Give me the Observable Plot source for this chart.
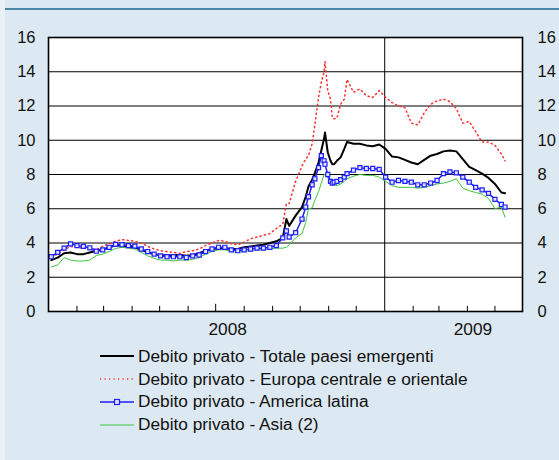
<!DOCTYPE html>
<html><head><meta charset="utf-8">
<script src="https://cdn.jsdelivr.net/npm/d3@7"></script>
<script src="https://cdn.jsdelivr.net/npm/@observablehq/plot@0.6"></script>
<style>
html,body{margin:0;padding:0;width:559px;height:460px;overflow:hidden;background:#eaf1f6;font-family:"Liberation Sans",Arial,sans-serif;}
#panel{position:absolute;left:5px;top:0;width:554px;height:460px;background:#dde9f2;}
#topline{position:absolute;left:5px;top:8px;width:554px;height:2px;background:#4b88a8;}
#chart{position:absolute;left:0;top:0;}
#legend{position:absolute;left:100px;top:345px;font-size:17.3px;color:#111;}
.row{height:22.8px;display:flex;align-items:center;white-space:nowrap;}
.row svg{margin-right:4px;flex:none}
</style>
</head><body>
<div id="panel"></div>
<div id="topline"></div>
<div id="chart"></div>
<div id="legend"></div>
<script>
const dates = [
"2008-01-04","2008-01-11","2008-01-18","2008-01-25","2008-02-01","2008-02-08","2008-02-15","2008-02-22","2008-02-29",
"2008-03-07","2008-03-14","2008-03-21","2008-03-28","2008-04-04","2008-04-11","2008-04-18","2008-04-25",
"2008-05-02","2008-05-09","2008-05-16","2008-05-23","2008-05-30","2008-06-06","2008-06-13","2008-06-20","2008-06-27",
"2008-07-04","2008-07-11","2008-07-18","2008-07-25","2008-08-01","2008-08-08","2008-08-15","2008-08-22","2008-08-29",
"2008-09-05","2008-09-12","2008-09-16","2008-09-19","2008-09-26","2008-10-03","2008-10-07","2008-10-10","2008-10-14",
"2008-10-17","2008-10-21","2008-10-24","2008-10-27","2008-10-28","2008-10-31","2008-11-03","2008-11-05","2008-11-07",
"2008-11-10","2008-11-14","2008-11-18","2008-11-21","2008-11-28","2008-12-05","2008-12-12","2008-12-19","2008-12-26",
"2009-01-02","2009-01-09","2009-01-16","2009-01-23","2009-01-30","2009-02-06","2009-02-13","2009-02-20","2009-02-27",
"2009-03-06","2009-03-13","2009-03-20","2009-03-27","2009-04-03","2009-04-10","2009-04-17","2009-04-24","2009-05-01",
"2009-05-08","2009-05-12"
];
const totale = [
3.0,3.15,3.4,3.45,3.35,3.35,3.45,3.55,3.6,3.75,3.85,3.85,3.8,3.75,3.6,3.45,3.35,3.3,3.25,3.3,3.3,3.25,3.3,3.4,3.55,3.65,
3.7,3.7,3.65,3.65,3.75,3.8,3.85,3.9,4.0,4.1,
4.3,5.4,5.0,5.6,6.1,6.7,7.3,7.7,8.1,8.7,9.4,10.1,10.45,9.3,8.8,8.6,8.6,8.8,9.0,9.5,9.9,9.8,9.8,9.7,9.65,9.75,
9.5,9.05,9.0,8.85,8.7,8.6,8.85,9.1,9.2,9.35,9.4,9.35,8.9,8.45,8.25,8.05,7.8,7.45,6.95,6.9
];
const europa = [
3.2,3.35,3.6,3.8,3.75,3.7,3.7,3.6,3.8,3.95,4.1,4.2,4.15,4.1,4.0,3.8,3.65,3.55,3.5,3.45,3.4,3.5,3.55,3.65,3.85,4.0,
4.15,4.1,3.95,3.9,4.05,4.25,4.35,4.45,4.55,4.85,
5.1,6.3,6.3,7.6,8.5,8.9,9.1,9.8,10.9,12.5,13.4,14.0,14.6,12.9,12.4,11.3,11.25,11.3,12.1,12.4,13.55,12.8,13.0,12.6,12.5,12.9,
12.5,12.2,12.0,11.9,11.0,10.9,11.6,12.1,12.3,12.4,12.25,11.85,11.0,11.1,10.5,9.9,9.9,9.7,9.2,8.8
];
const america = [
3.2,3.45,3.7,3.95,3.85,3.8,3.72,3.52,3.6,3.75,3.92,3.9,3.85,3.82,3.65,3.5,3.35,3.25,3.2,3.2,3.2,3.15,3.25,3.3,3.5,3.65,
3.75,3.75,3.6,3.55,3.6,3.65,3.7,3.7,3.75,3.85,
4.3,4.7,4.35,4.6,5.4,6.1,6.7,7.4,7.75,8.4,9.1,8.8,8.6,8.0,7.6,7.5,7.55,7.6,7.7,7.85,8.05,8.25,8.4,8.35,8.35,8.3,
7.85,7.55,7.65,7.6,7.55,7.4,7.4,7.5,7.65,8.05,8.15,8.1,7.85,7.55,7.25,7.1,6.9,6.55,6.25,6.1
];
const asia = [
2.6,2.72,3.15,3.0,2.95,2.95,3.0,3.27,3.35,3.5,3.68,3.75,3.7,3.65,3.45,3.25,3.1,3.0,3.0,2.95,3.0,3.0,3.05,3.15,3.35,3.5,
3.6,3.6,3.5,3.45,3.5,3.55,3.6,3.6,3.65,3.7,
3.7,3.75,3.9,4.3,4.55,5.2,6.0,6.05,6.5,7.0,7.5,8.0,8.0,7.8,7.6,7.45,7.4,7.35,7.45,7.6,7.75,7.9,8.0,7.95,7.95,7.85,
7.6,7.35,7.25,7.25,7.25,7.2,7.25,7.35,7.45,7.5,7.6,7.75,7.2,7.05,6.95,6.85,6.6,6.0,6.1,5.5
];
const seriesNames = [
"Debito privato - Totale paesi emergenti",
"Debito privato - Europa centrale e orientale",
"Debito privato - America latina",
"Debito privato - Asia (2)"
];
const yTicks = [0,2,4,6,8,10,12,14,16];
const yearLabels = ["2008","2009"];
const yearLabelDates = ["2008-07-14","2009-04-07"];
const yearBoundary = "2009-01-01";
const xDomain = ["2008-01-01","2009-05-31"];

const rows = dates.map((d,i)=>({date:new Date(d), tot:totale[i], eu:europa[i], am:america[i], as:asia[i]}));
const months = d3.utcMonth.range(new Date("2008-02-01"), new Date("2009-05-31"))
  .filter(d => +d !== +new Date(yearBoundary));
const years = yearLabels.map((t,i)=>({t, x:new Date(yearLabelDates[i])}));

const BLUE = "#1e1eff", RED = "#ff3030", GREEN = "#3ec43e";

const chart = Plot.plot({
  width: 559, height: 340,
  marginLeft: 48, marginRight: 37, marginTop: 37, marginBottom: 29,
  style: {background: "transparent", fontFamily: "'Liberation Sans', Arial, sans-serif", fontSize: "16.5px", color: "#111"},
  x: {type: "utc", domain: xDomain.map(d=>new Date(d)), axis: null},
  y: {domain: [0,16], axis: null},
  marks: [
    Plot.frame({fill: "white"}),
    Plot.ruleY(yTicks, {stroke: "#000", strokeWidth: 1.2}),
    Plot.ruleX([new Date(yearBoundary)], {stroke: "#000", strokeWidth: 1}),
    Plot.ruleX(months, {x: d=>d, y1: 0, y2: d => d.getUTCMonth()===6 ? 0.42 : 0.3, stroke:"#000", strokeWidth: 1}),
    Plot.line(rows, {x:"date", y:"eu", stroke: RED, strokeWidth: 1.5, strokeDasharray: "1.2,3.3"}),
    Plot.line(rows, {x:"date", y:"tot", stroke: "#000", strokeWidth: 2}),
    Plot.line(rows, {x:"date", y:"as", stroke: GREEN, strokeWidth: 1}),
    Plot.line(rows, {x:"date", y:"am", stroke: BLUE, strokeWidth: 1.5}),
    Plot.dot(rows, {x:"date", y:"am", symbol:"square", r: 2.3, stroke: BLUE, fill: "#dfe3ff", strokeWidth: 1.2}),
    Plot.axisY({anchor:"left", ticks: yTicks, tickSize: 0, tickPadding: 13, label: null}),
    Plot.axisY({anchor:"right", ticks: yTicks, tickSize: 0, tickPadding: 15, label: null}),
    Plot.text(years, {x:"x", y: ()=>0, text:"t", dy: 18, fontSize: 17.3, fill:"#111"}),
    Plot.frame({stroke: "#000", strokeWidth: 1.6})
  ]
});
document.getElementById("chart").appendChild(chart);

const samples = [
  `<line x1="0" y1="6" x2="34" y2="6" stroke="#000" stroke-width="2"/>`,
  `<line x1="0" y1="6" x2="34" y2="6" stroke="${RED}" stroke-width="1.4" stroke-dasharray="1.2,3.3"/>`,
  `<line x1="0" y1="6" x2="34" y2="6" stroke="${BLUE}" stroke-width="1.5"/><rect x="14.5" y="3.5" width="5" height="5" fill="#dfe3ff" stroke="${BLUE}" stroke-width="1.2"/>`,
  `<line x1="0" y1="6" x2="34" y2="6" stroke="${GREEN}" stroke-width="1"/>`
];
document.getElementById("legend").innerHTML = seriesNames.map((n,i)=>
  `<div class="row"><svg width="34" height="12">${samples[i]}</svg><span>${n}</span></div>`).join("");
</script>
</body></html>
